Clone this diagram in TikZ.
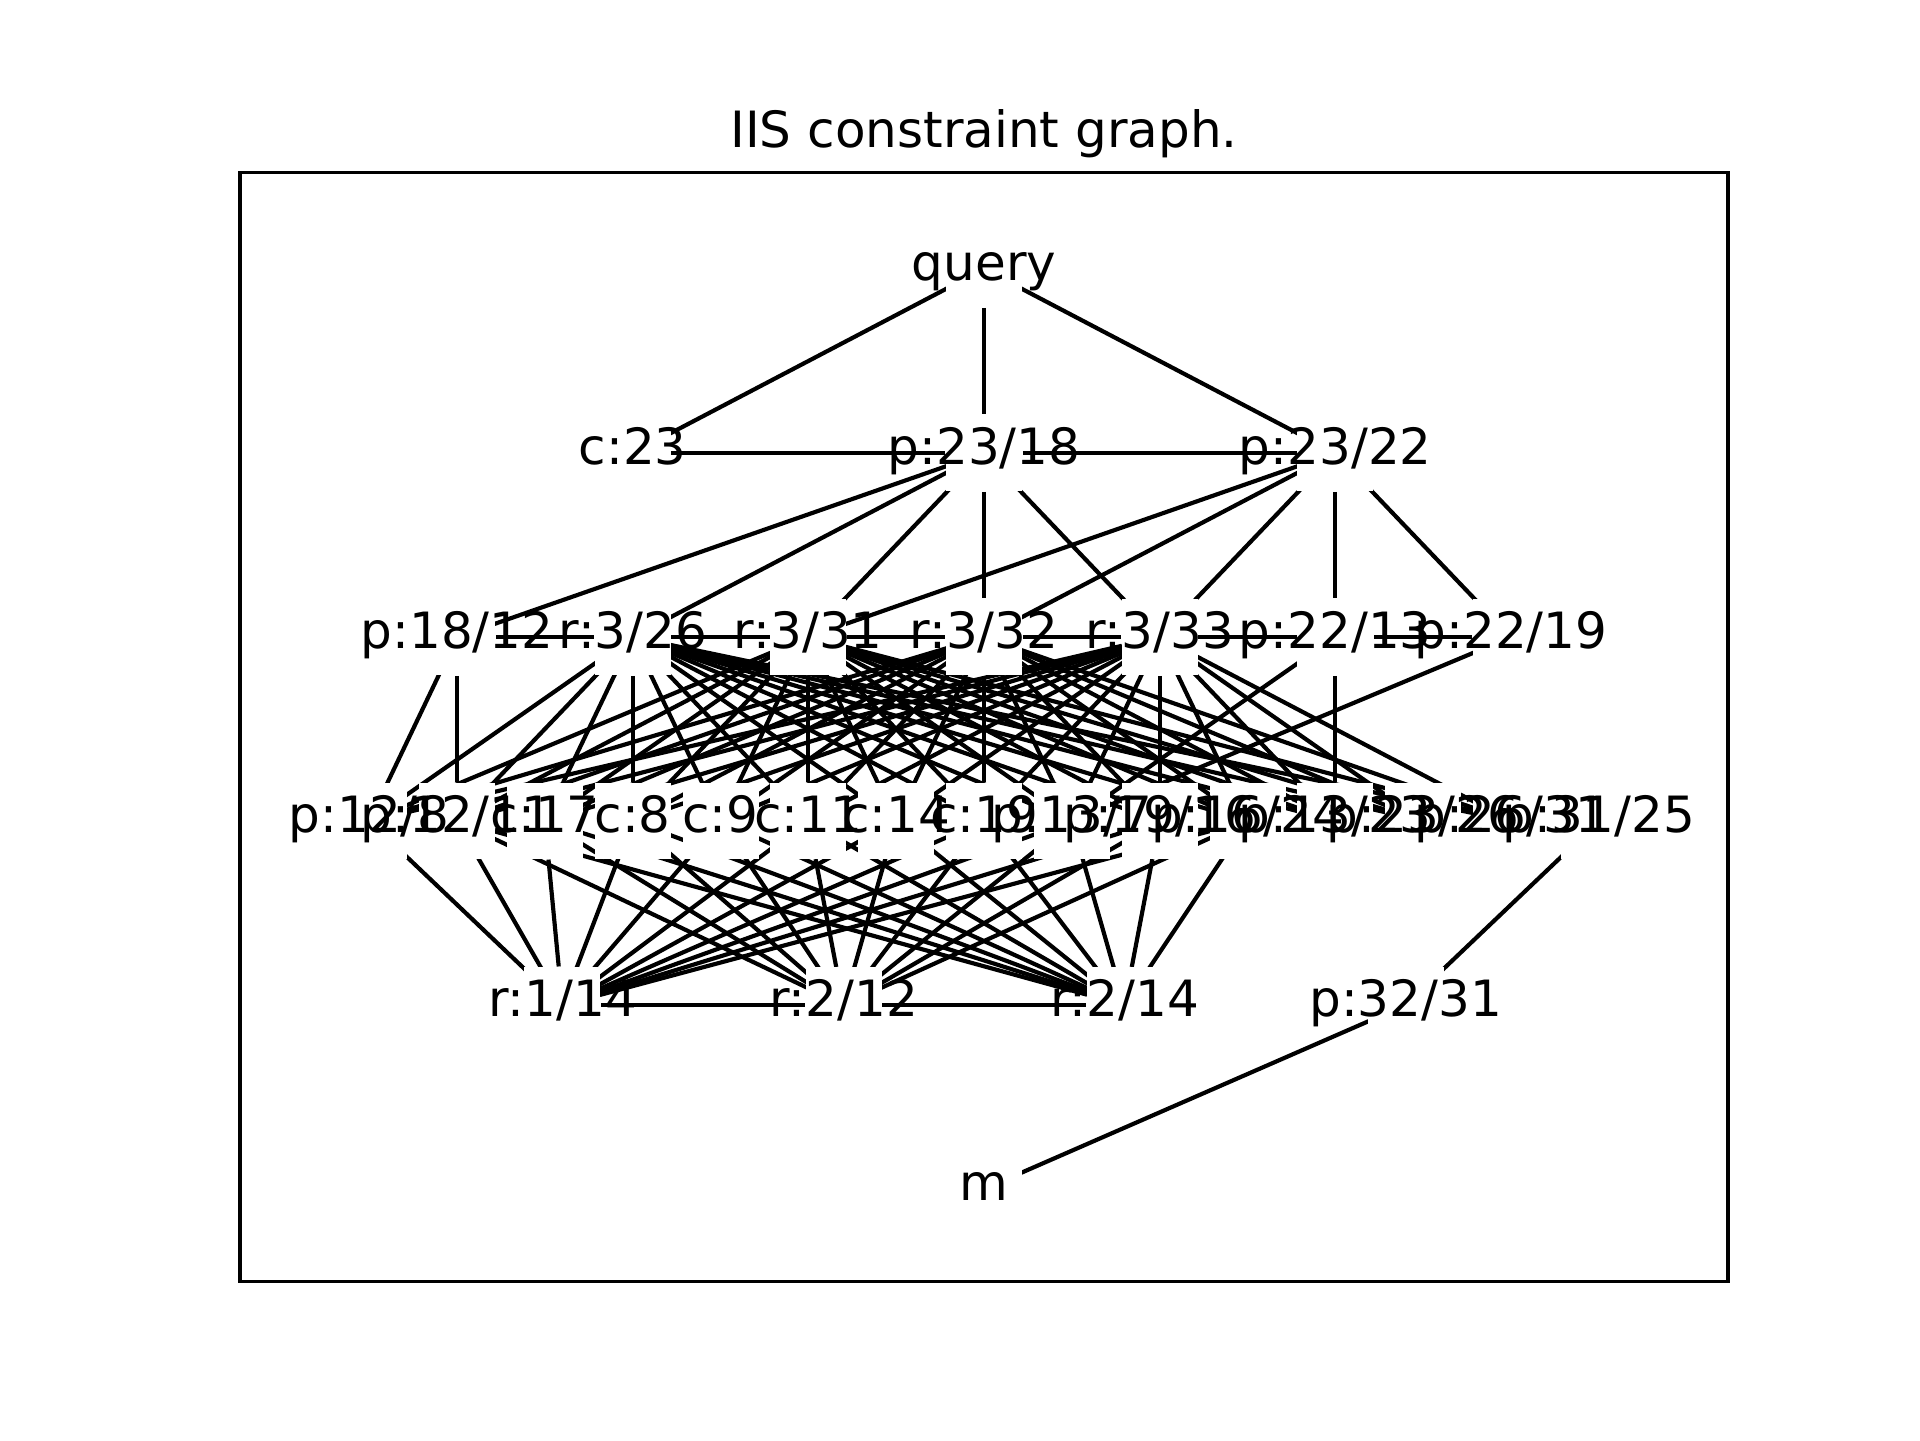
\documentclass[tikz,border=0pt]{standalone}
\usepackage{fontspec}
\setmainfont{DejaVu Sans}
\pgfdeclarelayer{edges}
\pgfdeclarelayer{boxes}
\pgfsetlayers{edges,boxes,main}

\begin{document}
\begin{tikzpicture}[x=0.24bp,y=-0.24bp,font=\fontsize{12bp}{14bp}\selectfont,
    lbl/.style={inner sep=0pt,text height=0.76em,text depth=0.21em},
    sq/.style={fill=white,inner sep=0pt,minimum size=18.24bp},
    edge/.style={line width=1bp,shorten <=9.3bp,shorten >=9.3bp}]
      \useasboundingbox (0,0) rectangle (1920,1440);
      \draw[line width=0.8bp] (240,172.8) rectangle (1728,1281.6);
      \node[anchor=base] (title) at (984,147.8) {IIS constraint graph.};
      % layer 0 and 1
      \node[lbl] (q) at (984,269) {query};
      \node[lbl] (c23) at (632.7,453) {c:23};
      \node[lbl] (p2318) at (984,453) {p:23/18};
      \node[lbl] (p2322) at (1335.3,453) {p:23/22};
      % layer 2
      \node[lbl] (p1812) at (457.0,637) {p:18/12};
      \node[lbl] (r326) at (632.7,637) {r:3/26};
      \node[lbl] (r331) at (808.3,637) {r:3/31};
      \node[lbl] (r332) at (984.0,637) {r:3/32};
      \node[lbl] (r333) at (1159.6,637) {r:3/33};
      \node[lbl] (p2213) at (1335.3,637) {p:22/13};
      \node[lbl] (p2219) at (1511.0,637) {p:22/19};
      % layer 3
      \node[lbl] (p128) at (369.2,821) {p:12/8};
      \node[lbl] (p1211) at (457.0,821) {p:12/11};
      \node[lbl] (c17) at (544.8,821) {c:17};
      \node[lbl] (c8) at (632.7,821) {c:8};
      \node[lbl] (c9) at (720.5,821) {c:9};
      \node[lbl] (c11) at (808.3,821) {c:11};
      \node[lbl] (c14) at (896.1,821) {c:14};
      \node[lbl] (c19) at (984.0,821) {c:19};
      \node[lbl] (p137) at (1071.8,821) {p:13/7};
      \node[lbl] (p1916) at (1159.6,821) {p:19/16};
      \node[lbl] (p1624) at (1247.5,821) {p:16/24};
      \node[lbl] (p1323) at (1335.3,821) {p:13/23};
      \node[lbl] (p2326) at (1423.1,821) {p:23/26};
      \node[lbl] (p2631) at (1510.9,821) {p:26/31};
      \node[lbl] (p3125) at (1598.8,821) {p:31/25};
      % layer 4 and 5
      \node[lbl] (r114) at (562.4,1005) {r:1/14};
      \node[lbl] (r212) at (843.5,1005) {r:2/12};
      \node[lbl] (r214) at (1124.5,1005) {r:2/14};
      \node[lbl] (p3231) at (1405.6,1005) {p:32/31};
      \node[lbl] (m) at (984,1189) {m};
      % white squares under the labels
      \begin{pgfonlayer}{boxes}
      \foreach \n in {q,c23,p2318,p2322,p1812,r326,r331,r332,r333,p2213,p2219,
          p128,p1211,c17,c8,c9,c11,c14,c19,p137,p1916,p1624,p1323,p2326,p2631,p3125,
          r114,r212,r214,p3231,m}
        \node[sq] at (\n.center) {};
      \end{pgfonlayer}
      % edges
      \begin{pgfonlayer}{edges}
      \foreach \a/\b in {q/c23,q/p2318,q/p2322,c23/p2318,p2318/p2322,
          p2318/p1812,p2318/r326,p2318/r331,p2318/r332,p2318/r333,
          p2322/r331,p2322/r332,p2322/r333,p2322/p2213,p2322/p2219,
          p1812/r326,r326/r331,r331/r332,r332/r333,r333/p2213,p2213/p2219,
          p1812/p128,p1812/p1211,p2213/p137,p2213/p1323,p2219/p137,
          r114/r212,r212/r214,p3125/p3231,p3231/m,p128/r114}
        \draw[edge] (\a.center) -- (\b.center);
      \foreach \a in {r326,r331,r332,r333}
        \foreach \b in {p128,p1211,c17,c8,c9,c11,c14,c19,p137,p1916,p1624,p1323,p2326,p2631}
          \draw[edge] (\a.center) -- (\b.center);
      \foreach \a in {r114,r212,r214}
        \foreach \b in {p1211,c17,c8,c9,c11,c14,c19,p137,p1916,p1624}
          \draw[edge] (\a.center) -- (\b.center);
      \end{pgfonlayer}
\end{tikzpicture}
\end{document}
